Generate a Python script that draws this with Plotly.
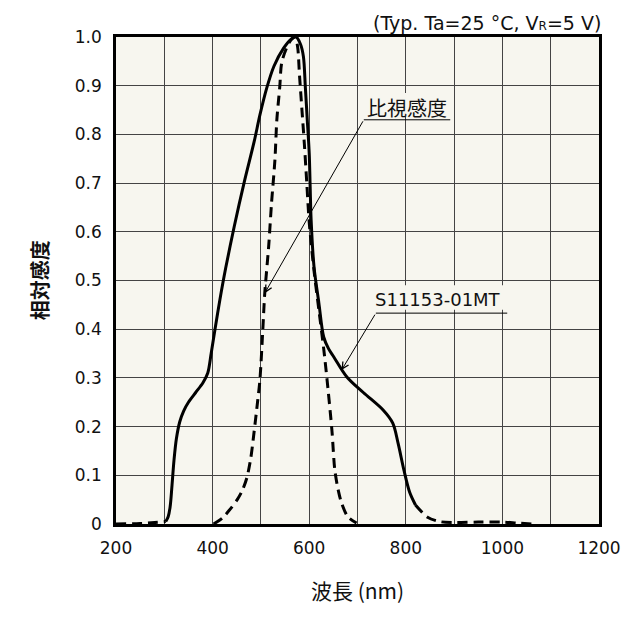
import plotly.graph_objects as go

# ---- data ----
# S11153-01MT spectral response (relative)
sens_tail_l_nm = [200, 250, 280, 303]
sens_tail_l_v = [0.0, 0.001, 0.003, 0.005]
sens_nm = [303, 308, 312, 316, 320, 325, 332, 340, 350, 365, 380, 390, 397, 405, 415, 427,
           445, 465, 486, 498, 512, 527, 547, 562, 573, 582, 588, 592, 596, 600, 602, 604,
           610, 620, 630, 640, 651, 678, 712, 753, 773, 784, 796, 808, 820]
sens_v = [0.005, 0.015, 0.035, 0.08, 0.13, 0.175, 0.21, 0.232, 0.25, 0.27, 0.29, 0.31, 0.35, 0.40, 0.46, 0.525,
          0.612, 0.70, 0.785, 0.84, 0.895, 0.94, 0.977, 0.995, 1.0, 0.985, 0.96, 0.897, 0.83, 0.762, 0.692, 0.624,
          0.528, 0.454, 0.384, 0.36, 0.343, 0.302, 0.27, 0.234, 0.207, 0.166, 0.111, 0.065, 0.039]
sens_tail_r_nm = [820, 845, 870, 900, 950, 1000, 1030, 1060]
sens_tail_r_v = [0.039, 0.014, 0.005, 0.003, 0.004, 0.004, 0.002, 0.0]

# Photopic luminosity (比視感度)
vis_nm = [402, 420, 436, 451, 462, 471, 479, 486, 493, 498, 504, 508, 516, 522, 529, 533, 539, 543, 553,
          563, 571, 576, 580, 585, 590, 595, 600, 610, 620, 630, 637, 647, 653, 660, 667, 680, 698]
vis_v = [0.0, 0.012, 0.03, 0.05, 0.07, 0.095, 0.135, 0.19, 0.25, 0.296, 0.40, 0.474, 0.569, 0.659, 0.747, 0.83, 0.897, 0.947, 0.977,
         0.995, 1.0, 0.98, 0.92, 0.85, 0.78, 0.70, 0.62, 0.52, 0.44, 0.36, 0.296, 0.193, 0.111, 0.07, 0.043, 0.015, 0.002]

x_ticks = [200, 300, 400, 500, 600, 700, 800, 900, 1000, 1100, 1200]
x_labels = ["200", "", "400", "", "600", "", "800", "", "1000", "", "1200"]
y_ticks = [0, 0.1, 0.2, 0.3, 0.4, 0.5, 0.6, 0.7, 0.8, 0.9, 1.0]
y_labels = ["0", "0.1", "0.2", "0.3", "0.4", "0.5", "0.6", "0.7", "0.8", "0.9", "1.0"]

LAT = "DejaVu Sans, Noto Sans CJK JP, sans-serif"
CJK = "Noto Sans CJK JP, sans-serif"
BG = "#f7f6ef"
DASH = "10px,6px"

fig = go.Figure()
fig.add_trace(go.Scatter(x=vis_nm, y=vis_v, mode="lines", line=dict(color="black", width=3, dash=DASH, shape="spline", smoothing=0.8)))
fig.add_trace(go.Scatter(x=sens_tail_l_nm, y=sens_tail_l_v, mode="lines", line=dict(color="black", width=3, dash=DASH, shape="spline")))
fig.add_trace(go.Scatter(x=sens_tail_r_nm, y=sens_tail_r_v, mode="lines", line=dict(color="black", width=3, dash=DASH, shape="spline", smoothing=0.8)))
fig.add_trace(go.Scatter(x=sens_nm, y=sens_v, mode="lines", line=dict(color="black", width=3, shape="spline", smoothing=0.9)))

# label backgrounds (hide grid behind label text)
fig.add_shape(type="rect", x0=713, x1=892, y0=0.836, y1=0.885, layer="between", fillcolor=BG, line=dict(width=0))
fig.add_shape(type="rect", x0=738, x1=1010, y0=0.44, y1=0.49, layer="between", fillcolor=BG, line=dict(width=0))
# underlines of labels
fig.add_shape(type="line", x0=713, x1=892, y0=0.83, y1=0.83, line=dict(color="black", width=1))
fig.add_shape(type="line", x0=738, x1=1010, y0=0.433, y1=0.433, line=dict(color="black", width=1))

ann = [
    dict(x=802, y=0.856, text="比視感度", showarrow=False, font=dict(family=CJK, size=20, color="#111")),
    dict(x=867, y=0.461, text="S11153-01MT", showarrow=False, font=dict(family=LAT, size=18, color="#111")),
    dict(x=508, y=0.474, ax=713, ay=0.83, axref="x", ayref="y", text="", showarrow=True,
         arrowhead=5, arrowsize=1.3, arrowwidth=1, arrowcolor="black"),
    dict(x=667, y=0.316, ax=738, ay=0.433, axref="x", ayref="y", text="", showarrow=True,
         arrowhead=5, arrowsize=1.3, arrowwidth=1, arrowcolor="black"),
    dict(x=1.0, y=1.0, xref="paper", yref="paper", xanchor="right", yanchor="bottom", yshift=1, xshift=4,
         text="(Typ. Ta=25 °C, V<span style='font-size:12px'>R</span>=5 V)", showarrow=False,
         font=dict(family=LAT, size=19, color="#111")),
    dict(x=22, y=0.5, xref="pixel", yref="paper", text="<b>相対感度</b>", textangle=-90, showarrow=False,
         font=dict(family=CJK, size=20, color="#111")),
    dict(x=0.5, y=607, xref="paper", yref="pixel", text="波長 (nm)", showarrow=False,
         font=dict(family=CJK, size=21, color="#111")),
]
# convert pixel refs to paper
W, H = 633, 623
ml, mr, mt, mb = 116, 27, 37, 99
pw, ph = W - ml - mr, H - mt - mb
for a in ann:
    if a.get("xref") == "pixel":
        a["xref"] = "paper"
        a["x"] = (a["x"] - ml) / pw
    if a.get("yref") == "pixel":
        a["yref"] = "paper"
        a["y"] = (H - mb - a["y"]) / ph
fig.update_layout(annotations=ann)

fig.update_layout(
    width=W, height=H,
    margin=dict(l=ml, r=mr, t=mt, b=mb),
    paper_bgcolor="white", plot_bgcolor=BG,
    showlegend=False,
    font=dict(family=LAT, size=17, color="#111"),
    xaxis=dict(range=[200, 1200], tickvals=x_ticks, ticktext=x_labels, showgrid=True, gridcolor="#444", gridwidth=1,
               showline=True, mirror=True, linecolor="black", linewidth=2.5, ticks="", ticklabelstandoff=7,
               zeroline=False, tickfont=dict(family=LAT, size=17)),
    yaxis=dict(range=[0, 1.0], tickvals=y_ticks, ticktext=y_labels, showgrid=True, gridcolor="#444", gridwidth=1,
               showline=True, mirror=True, linecolor="black", linewidth=2.5, ticks="", ticklabelstandoff=8,
               zeroline=False, tickfont=dict(family=LAT, size=17)),
)

fig.write_html("out.html")
